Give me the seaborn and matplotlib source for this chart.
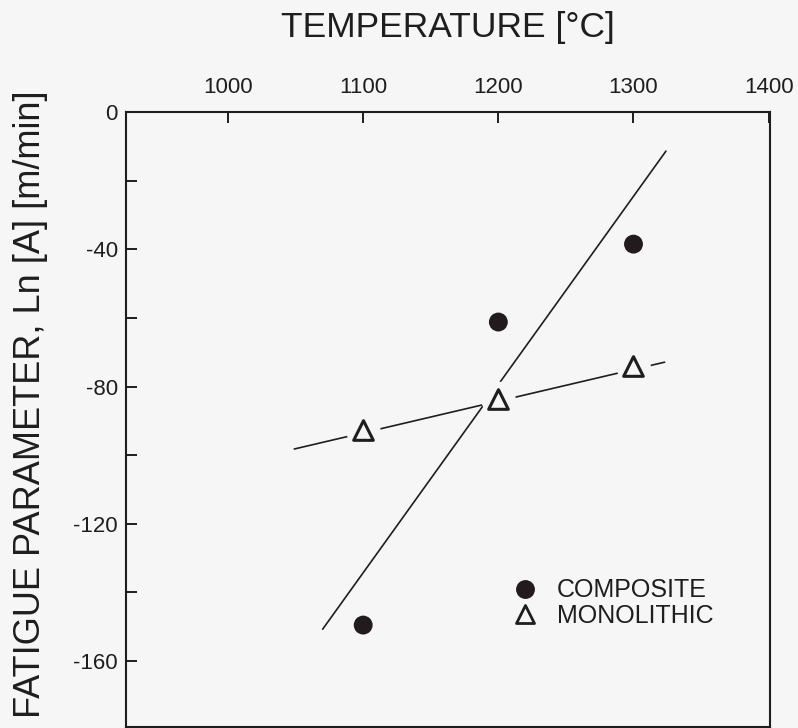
import matplotlib
matplotlib.use("Agg")
import matplotlib.pyplot as plt
from matplotlib.lines import Line2D
from matplotlib.markers import MarkerStyle
import seaborn as sns
import pandas as pd

# ---- data ----
temperature = [1100, 1200, 1300]
composite = [-149.5, -61.2, -38.5]
monolithic = [-92.6, -83.6, -74.0]

# fitted lines as drawn in the figure (end points)
composite_fit_x = [1070, 1324]
composite_fit_y = [-150.7, -11.4]
monolithic_fit_x = [1049, 1323]
monolithic_fit_y = [-98.2, -72.9]

x_ticks = [1000, 1100, 1200, 1300, 1400]
y_ticks = [0, -40, -80, -120, -160]
y_minor = [-20, -60, -100, -140]

title = "TEMPERATURE [°C]"
ylabel = "FATIGUE PARAMETER, Ln [A] [m/min]"
labels = ["COMPOSITE", "MONOLITHIC"]

# ---- style ----
sns.set_theme(style="white")
plt.rcParams["font.family"] = ["Liberation Sans", "DejaVu Sans"]
INK = "#1e1e1e"
BG = "#f6f6f6"

fig = plt.figure(figsize=(7.98, 7.28), dpi=100, facecolor=BG)
ax = fig.add_axes([126 / 798, 1 / 728, (770 - 126) / 798, (727 - 112) / 728])
ax.set_facecolor(BG)

pts = pd.DataFrame({
    "T": temperature * 2,
    "v": composite + monolithic,
    "kind": [labels[0]] * 3 + [labels[1]] * 3,
})
fits = pd.DataFrame({
    "T": composite_fit_x + monolithic_fit_x,
    "v": composite_fit_y + monolithic_fit_y,
    "kind": [labels[0]] * 2 + [labels[1]] * 2,
})

# fit lines
sns.lineplot(data=fits, x="T", y="v", units="kind", estimator=None,
             color=INK, linewidth=1.2, ax=ax, legend=False, zorder=2)

mono = pts[pts["kind"] == labels[1]]
comp = pts[pts["kind"] == labels[0]]

# white halo around triangles (gap in the lines)
sns.scatterplot(data=mono, x="T", y="v", marker="o", s=620, color=BG,
                edgecolor="none", linewidth=0, ax=ax, legend=False, zorder=3)
# open triangles
sns.scatterplot(data=mono, x="T", y="v", marker="^", s=200, facecolor=BG,
                edgecolor=INK, linewidth=2.2, ax=ax, legend=False, zorder=4)
ax.collections[-1].set_joinstyle("round")
# filled circles
sns.scatterplot(data=comp, x="T", y="v", marker="o", s=185, color="#231a1e",
                edgecolor="none", linewidth=0, ax=ax, legend=False, zorder=4)

ax.set_xlim(924.5, 1401)
ax.set_ylim(-179.2, 0)

ax.xaxis.tick_top()
ax.set_xticks(x_ticks)
ax.set_xticklabels([str(t) for t in x_ticks])
ax.set_yticks(y_ticks)
ax.set_yticklabels([str(t) for t in y_ticks])
ax.set_yticks(y_minor, minor=True)
ax.tick_params(axis="x", which="both", direction="in", length=8, width=1.4,
               colors=INK, labelsize=16, pad=10, top=True, bottom=False,
               labeltop=True, labelbottom=False)
ax.tick_params(axis="y", which="both", direction="in", length=8, width=1.4,
               colors=INK, labelsize=16, pad=6, left=True, right=False)
ax.set_xlabel("")
ax.set_ylabel("")
for sp in ax.spines.values():
    sp.set_visible(True)
    sp.set_color(INK)
    sp.set_linewidth(1.5)

fig.text(448 / 798, 1 - 27 / 728, title, ha="center", va="center",
         fontsize=25.5, color=INK)
fig.text(31 / 798, 1 - 404 / 728, ylabel, ha="center", va="center",
         rotation=90, fontsize=26, color=INK)

handles = [
    Line2D([], [], linestyle="none", marker="o", markersize=13.6,
           markerfacecolor="#231a1e", markeredgecolor="none"),
    Line2D([], [], linestyle="none", marker=MarkerStyle("^", joinstyle="round"),
           markersize=12.5, markerfacecolor=BG, markeredgecolor=INK,
           markeredgewidth=2.0),
]
leg = ax.legend(handles, labels, loc="center left",
                bbox_to_anchor=(512.5 / 798, 1 - 603 / 728),
                bbox_transform=fig.transFigure, frameon=False,
                fontsize=18, handlelength=1.0, handletextpad=0.78,
                borderpad=0, borderaxespad=0, labelspacing=0.05)
for t in leg.get_texts():
    t.set_color(INK)

fig.savefig("out.png", dpi=100, facecolor=BG)
